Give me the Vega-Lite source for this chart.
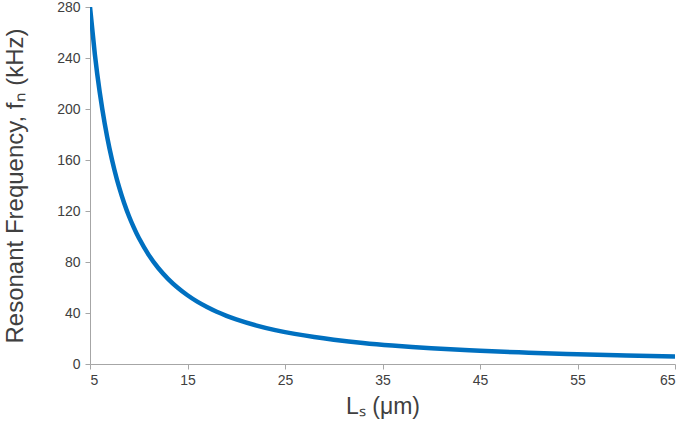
{
  "$schema": "https://vega.github.io/schema/vega-lite/v6.json",
  "autosize": {"type": "none"},
  "width": 585,
  "height": 357,
  "padding": {"left": 90, "top": 7, "right": 10, "bottom": 61},
  "background": "white",
  "config": {"view": {"stroke": null}, "font": "Liberation Sans"},
  "data": {"values": [
    {"L": 5, "f": 280}, {"L": 5.5, "f": 242.7}, {"L": 6, "f": 213}, {"L": 6.5, "f": 188.9},
    {"L": 7, "f": 169}, {"L": 7.5, "f": 152.4}, {"L": 8, "f": 138.3}, {"L": 8.5, "f": 126.3},
    {"L": 9, "f": 115.9}, {"L": 9.5, "f": 106.9}, {"L": 10, "f": 99}, {"L": 11, "f": 85.8},
    {"L": 12, "f": 75.3}, {"L": 13, "f": 66.8}, {"L": 14, "f": 59.8}, {"L": 15, "f": 53.9},
    {"L": 16, "f": 48.9}, {"L": 17, "f": 44.7}, {"L": 18, "f": 41}, {"L": 19, "f": 37.8},
    {"L": 20, "f": 35}, {"L": 22, "f": 30.3}, {"L": 24, "f": 26.6}, {"L": 26, "f": 23.6},
    {"L": 28, "f": 21.1}, {"L": 30, "f": 19.05}, {"L": 33, "f": 16.5}, {"L": 36, "f": 14.5},
    {"L": 40, "f": 12.4}, {"L": 45, "f": 10.4}, {"L": 50, "f": 8.85}, {"L": 55, "f": 7.68},
    {"L": 60, "f": 6.74}, {"L": 65, "f": 5.97}
  ]},
  "mark": {"type": "line", "color": "#0070C0", "strokeWidth": 4.5, "interpolate": "natural", "clip": true},
  "encoding": {
    "x": {"field": "L", "type": "quantitative",
      "scale": {"domain": [5, 65], "nice": false, "zero": false},
      "axis": {"values": [5, 15, 25, 35, 45, 55, 65], "grid": false, "title": "Lₛ (μm)",
        "domainColor": "#a6a6a6", "tickColor": "#a6a6a6", "tickSize": 5,
        "labelColor": "#404040", "labelFontSize": 14, "labelPadding": 4,
        "titleColor": "#404040", "titleFontSize": 23, "titleFontWeight": "normal", "titlePadding": 8}},
    "y": {"field": "f", "type": "quantitative",
      "scale": {"domain": [0, 280], "nice": false},
      "axis": {"values": [0, 40, 80, 120, 160, 200, 240, 280], "grid": false, "title": "Resonant Frequency, fₙ (kHz)",
        "domainColor": "#a6a6a6", "tickColor": "#a6a6a6", "tickSize": 5,
        "labelColor": "#404040", "labelFontSize": 14, "labelPadding": 5,
        "titleColor": "#404040", "titleFontSize": 24, "titleFontWeight": "normal", "titlePadding": 29}}
  }
}
